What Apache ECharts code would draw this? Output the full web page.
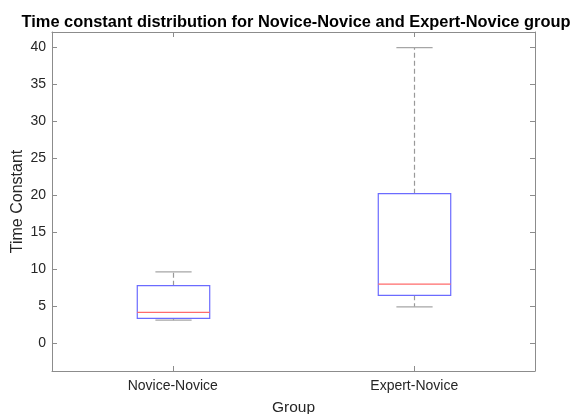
<!DOCTYPE html>
<html>
<head>
<meta charset="utf-8">
<script src="https://cdn.jsdelivr.net/npm/echarts@6/dist/echarts.min.js"></script>
<style>
  html, body { margin: 0; padding: 0; background: #fff; }
  #chart { width: 576px; height: 414px; }
</style>
</head>
<body>
<div id="chart"></div>
<script>
// Box-plot summary statistics per group
const groups = ['Novice-Novice', 'Expert-Novice'];
const whiskerLow = [3.15, 4.95];
const quartile1 = [3.4, 6.5];
const medians = [4.2, 8.0];
const quartile3 = [7.8, 20.2];
const whiskerHigh = [9.65, 39.9];

const yMin = -3.7;
const yMax = 42;

const boxData = groups.map((g, i) => [i, whiskerLow[i], quartile1[i], medians[i], quartile3[i], whiskerHigh[i]]);

const axisGray = '#8c8c8c';
const labelColor = '#262626';
const font = 'Liberation Sans, Arial, sans-serif';

function renderBox(params, api) {
  const idx = api.value(0);
  const band = api.size([1, 0])[0];
  const halfBox = band * 0.15;
  const halfCap = band * 0.075;
  const pLow = api.coord([idx, api.value(1)]);
  const pQ1 = api.coord([idx, api.value(2)]);
  const pMed = api.coord([idx, api.value(3)]);
  const pQ3 = api.coord([idx, api.value(4)]);
  const pHigh = api.coord([idx, api.value(5)]);
  const cx = Math.round(pMed[0]) + 0.5;
  const whiskerStyle = { stroke: '#999999', lineWidth: 1.2, lineDash: [5, 3] };
  const capStyle = { stroke: '#a6a6a6', lineWidth: 1.2 };
  return {
    type: 'group',
    children: [
      { type: 'line', shape: { x1: cx, y1: pQ3[1], x2: cx, y2: pHigh[1] }, style: whiskerStyle },
      { type: 'line', shape: { x1: cx, y1: pQ1[1], x2: cx, y2: pLow[1] }, style: whiskerStyle },
      { type: 'line', shape: { x1: cx - halfCap, y1: pHigh[1], x2: cx + halfCap, y2: pHigh[1] }, style: capStyle },
      { type: 'line', shape: { x1: cx - halfCap, y1: pLow[1], x2: cx + halfCap, y2: pLow[1] }, style: capStyle },
      { type: 'rect', shape: { x: cx - halfBox, y: pQ3[1], width: halfBox * 2, height: pQ1[1] - pQ3[1] },
        style: { fill: 'none', stroke: '#6b6bff', lineWidth: 1.2 } },
      { type: 'line', shape: { x1: cx - halfBox, y1: pMed[1], x2: cx + halfBox, y2: pMed[1] },
        style: { stroke: '#ff6b6b', lineWidth: 1.2 } }
    ]
  };
}

const chart = echarts.init(document.getElementById('chart'), null, { renderer: 'canvas' });

const xBase = {
  type: 'category',
  data: groups,
  boundaryGap: true,
  axisLine: { show: true, onZero: false, lineStyle: { color: axisGray, width: 1 } },
  axisTick: { show: true, inside: true, alignWithLabel: true, length: 5, lineStyle: { color: axisGray } },
  splitLine: { show: false }
};
const yBase = {
  type: 'value',
  min: yMin,
  max: yMax,
  splitNumber: 9,
  minInterval: 5,
  maxInterval: 5,
  axisLine: { show: true, onZero: false, lineStyle: { color: axisGray, width: 1 } },
  axisTick: { show: true, inside: true, length: 5, lineStyle: { color: axisGray } },
  splitLine: { show: false }
};

chart.setOption({
  animation: false,
  backgroundColor: '#ffffff',
  title: {
    text: 'Time constant distribution for Novice-Novice and Expert-Novice group',
    left: 291,
    top: 9,
    textAlign: 'center',
    textStyle: { fontFamily: font, fontSize: 16.4, fontWeight: 'bold', color: '#000000' }
  },
  grid: { left: 52, right: 41, top: 32, bottom: 43, containLabel: false, outerBoundsMode: 'none' },
  xAxis: [
    Object.assign({}, xBase, {
      position: 'bottom',
      name: 'Group',
      nameLocation: 'middle',
      nameGap: 29,
      nameMoveOverlap: false,
      nameTextStyle: { fontFamily: font, fontSize: 15.5, color: labelColor },
      axisLabel: { show: true, margin: 8, fontFamily: font, fontSize: 14, color: labelColor }
    }),
    Object.assign({}, xBase, { position: 'top', axisLabel: { show: false } })
  ],
  yAxis: [
    Object.assign({}, yBase, {
      position: 'left',
      name: 'Time Constant',
      nameLocation: 'middle',
      nameGap: 26,
      nameMoveOverlap: false,
      nameTextStyle: { fontFamily: font, fontSize: 16, color: labelColor },
      axisLabel: {
        show: true, margin: 6, fontFamily: font, fontSize: 14, color: labelColor,
        formatter: v => (Math.abs(v % 5) < 1e-6 ? String(v) : '')
      }
    }),
    Object.assign({}, yBase, { position: 'right', axisLabel: { show: false } })
  ],
  series: [{
    type: 'custom',
    xAxisIndex: 0,
    yAxisIndex: 0,
    renderItem: renderBox,
    encode: { x: 0, y: [1, 2, 3, 4, 5] },
    data: boxData,
    clip: false
  }]
});
</script>
</body>
</html>
